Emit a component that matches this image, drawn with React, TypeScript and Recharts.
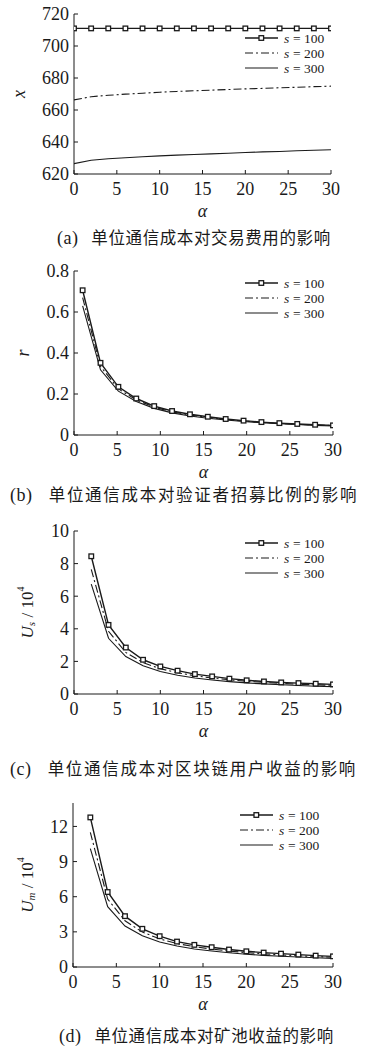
import React from 'react';
import { LineChart, Line, XAxis, YAxis, Legend } from 'recharts';

// α values
const ALPHA_A = [0, 2, 4, 6, 8, 10, 12, 14, 16, 18, 20, 22, 24, 26, 28, 30];
const ALPHA_B = [1, 3.07, 5.14, 7.21, 9.29, 11.36, 13.43, 15.5, 17.57, 19.64, 21.71, 23.79, 25.86, 27.93, 30];
const ALPHA_CD = [2, 4, 6, 8, 10, 12, 14, 16, 18, 20, 22, 24, 26, 28, 30];

// (a) x
const X_S100 = [711, 711, 711, 711, 711, 711, 711, 711, 711, 711, 711, 711, 711, 711, 711, 711];
const X_S200 = [666.3, 668.3, 669.2, 669.9, 670.5, 671.1, 671.6, 672.0, 672.4, 672.8, 673.2, 673.5, 673.9, 674.2, 674.6, 674.9];
const X_S300 = [626.5, 628.6, 629.5, 630.2, 630.8, 631.3, 631.8, 632.2, 632.6, 633.0, 633.4, 633.8, 634.1, 634.5, 634.8, 635.2];

// (b) r
const R_S100 = [0.706, 0.352, 0.235, 0.178, 0.141, 0.117, 0.101, 0.089, 0.078, 0.07, 0.063, 0.058, 0.054, 0.05, 0.047];
const R_S200 = [0.67, 0.335, 0.225, 0.171, 0.136, 0.113, 0.097, 0.086, 0.076, 0.068, 0.062, 0.056, 0.052, 0.049, 0.046];
const R_S300 = [0.63, 0.318, 0.214, 0.163, 0.13, 0.108, 0.093, 0.082, 0.073, 0.066, 0.06, 0.055, 0.051, 0.047, 0.044];

// (c) Us / 10^4
const US_S100 = [8.45, 4.24, 2.85, 2.1, 1.69, 1.43, 1.22, 1.08, 0.94, 0.84, 0.77, 0.71, 0.67, 0.63, 0.59];
const US_S200 = [7.64, 3.85, 2.55, 1.92, 1.55, 1.3, 1.12, 0.98, 0.87, 0.78, 0.71, 0.65, 0.6, 0.56, 0.53];
const US_S300 = [6.74, 3.42, 2.3, 1.73, 1.38, 1.15, 0.98, 0.86, 0.76, 0.68, 0.62, 0.57, 0.52, 0.48, 0.45];

// (d) Um / 10^4
const UM_S100 = [12.77, 6.4, 4.34, 3.26, 2.63, 2.17, 1.89, 1.69, 1.49, 1.34, 1.23, 1.14, 1.06, 0.97, 0.91];
const UM_S200 = [11.5, 5.8, 3.95, 2.98, 2.4, 2.0, 1.73, 1.53, 1.36, 1.23, 1.12, 1.03, 0.96, 0.89, 0.83];
const UM_S300 = [10.1, 5.15, 3.5, 2.66, 2.14, 1.79, 1.54, 1.36, 1.21, 1.09, 0.99, 0.92, 0.85, 0.79, 0.74];

const X_TICKS = [0, 5, 10, 15, 20, 25, 30];
const LEGEND_LABELS = ['100', '200', '300'];

const SERIF = '"Liberation Serif", "Times New Roman", serif';
const CJK = '"Noto Sans CJK SC", sans-serif';
const INK = '#1a1a1a';

const makeRows = (alpha: number[], a: number[], b: number[], c: number[]) =>
  alpha.map((x, i) => ({ a: x, s100: a[i], s200: b[i], s300: c[i] }));

const SquareDot = (props: any) => {
  const { cx, cy } = props;
  if (cx == null || cy == null) return null;
  return <rect x={cx - 2.3} y={cy - 2.3} width={4.6} height={4.6} fill="#fff" stroke={INK} strokeWidth={1.3} />;
};

// legend drawn by hand: sample line + "s = 100"
const LegendBox = () => (
  <svg width={95} height={48}>
    {LEGEND_LABELS.map((lab, i) => {
      const y = 7 + i * 15;
      return (
        <g key={lab}>
          <line
            x1={0}
            x2={33}
            y1={y}
            y2={y}
            stroke={INK}
            strokeWidth={i === 0 ? 1.4 : 1.1}
            strokeDasharray={i === 1 ? '8 3 2 3' : undefined}
          />
          {i === 0 && <rect x={14} y={y - 2.3} width={4.6} height={4.6} fill="#fff" stroke={INK} strokeWidth={1.3} />}
          <text x={39} y={y} dominantBaseline="central" fontFamily={SERIF} fontStyle="italic" fontSize={13.5} fill={INK}>
            s
          </text>
          <text x={48} y={y} dominantBaseline="central" fontFamily={SERIF} fontSize={13.5} fill={INK}>
            = {lab}
          </text>
        </g>
      );
    })}
  </svg>
);

type PanelProps = {
  top: number;
  plotH: number;
  left: number;
  right: number;
  rows: any[];
  yDomain: [number, number];
  yTicks: number[];
  yLabel: (cx: number, cy: number) => React.ReactNode;
  yLabelX: number;
  legendTop: number;
  legendLeft: number;
  caption: string;
  captionTop: number;
  captionLeft: number;
  captionSpacing: number;
};

const PAD_TOP = 12;

function Panel(p: PanelProps) {
  const height = PAD_TOP + p.plotH + 50;
  return (
    <>
      <div style={{ position: 'absolute', top: p.top - PAD_TOP, left: 0 }}>
        <LineChart
          width={365}
          height={height}
          data={p.rows}
          margin={{ top: PAD_TOP, right: 365 - p.right, left: 0, bottom: 0 }}
        >
          <XAxis
            dataKey="a"
            type="number"
            domain={[0, 30]}
            ticks={X_TICKS}
            allowDataOverflow
            height={50}
            axisLine={{ stroke: INK, strokeWidth: 1 }}
            tickLine={{ stroke: INK }}
            tickSize={-4}
            tickMargin={12}
            tick={{ fontFamily: SERIF, fontSize: 18, fill: INK }}
            label={(lp: any) => {
              const vb = lp.viewBox;
              return (
                <text
                  x={vb.x + vb.width / 2}
                  y={vb.y + 37}
                  textAnchor="middle"
                  dominantBaseline="central"
                  fontFamily={SERIF}
                  fontStyle="italic"
                  fontSize={18}
                  fill={INK}
                >
                  α
                </text>
              );
            }}
          />
          <XAxis xAxisId="top" orientation="top" type="number" domain={[0, 30]} tick={false} tickLine={false} height={0} axisLine={{ stroke: INK }} />
          <YAxis
            type="number"
            domain={p.yDomain}
            ticks={p.yTicks}
            allowDataOverflow
            width={p.left}
            axisLine={{ stroke: INK, strokeWidth: 1 }}
            tickLine={{ stroke: INK }}
            tickSize={-4}
            tickMargin={9}
            tick={{ fontFamily: SERIF, fontSize: 18, fill: INK }}
            label={(lp: any) => {
              const vb = lp.viewBox;
              return p.yLabel(p.yLabelX, vb.y + vb.height / 2);
            }}
          />
          <YAxis yAxisId="right" orientation="right" type="number" domain={p.yDomain} tick={false} tickLine={false} width={0} axisLine={{ stroke: INK }} />
          <Legend
            layout="vertical"
            align="center"
            verticalAlign="middle"
            content={() => <LegendBox />}
            wrapperStyle={{ top: p.legendTop - p.top + PAD_TOP, left: p.legendLeft, width: 95, height: 48 }}
          />
          <Line dataKey="s300" stroke={INK} strokeWidth={1.1} dot={false} isAnimationActive={false} />
          <Line dataKey="s200" stroke={INK} strokeWidth={1.1} strokeDasharray="8 3 2 3" dot={false} isAnimationActive={false} />
          <Line dataKey="s100" stroke={INK} strokeWidth={1.4} dot={<SquareDot />} isAnimationActive={false} />
        </LineChart>
      </div>
      <div
        style={{
          position: 'absolute',
          top: p.captionTop,
          left: p.captionLeft,
          whiteSpace: 'nowrap',
          fontSize: 16.5,
          lineHeight: '20px',
          color: INK,
          letterSpacing: p.captionSpacing,
        }}
      >
        <span style={{ fontFamily: SERIF, fontSize: 18, letterSpacing: 0.5 }}>{p.caption.slice(0, 3)}</span>
        <span style={{ fontFamily: CJK }}>{'\u00a0\u00a0' + p.caption.slice(3)}</span>
      </div>
    </>
  );
}

const plainLabel = (sym: string) => (cx: number, cy: number) => (
  <text
    x={cx}
    y={cy}
    transform={`rotate(-90, ${cx}, ${cy})`}
    textAnchor="middle"
    dominantBaseline="central"
    fontFamily={SERIF}
    fontStyle="italic"
    fontSize={18}
    fill={INK}
  >
    {sym}
  </text>
);

const uLabel = (sub: string) => (cx: number, cy: number) => (
  <text
    x={cx}
    y={cy}
    transform={`rotate(-90, ${cx}, ${cy})`}
    textAnchor="middle"
    dominantBaseline="central"
    fontFamily={SERIF}
    fontSize={17}
    fill={INK}
  >
    <tspan fontStyle="italic">U</tspan>
    <tspan fontStyle="italic" fontSize={11} dy={4}>
      {sub}
    </tspan>
    <tspan dy={-4}> / 10</tspan>
    <tspan fontSize={10} dy={-7}>
      4
    </tspan>
  </text>
);

export default function App() {
  return (
    <div style={{ position: 'absolute', top: 0, left: 0, width: 365, height: 1052, background: '#fff' }}>
      <Panel
        top={14}
        plotH={160}
        left={74}
        right={331}
        rows={makeRows(ALPHA_A, X_S100, X_S200, X_S300)}
        yDomain={[620, 720]}
        yTicks={[620, 640, 660, 680, 700, 720]}
        yLabel={plainLabel('x')}
        yLabelX={19}
        legendTop={31}
        legendLeft={245}
        caption="(a) 单位通信成本对交易费用的影响"
        captionTop={227}
        captionLeft={57}
        captionSpacing={0.6}
      />
      <Panel
        top={271}
        plotH={164}
        left={74}
        right={333}
        rows={makeRows(ALPHA_B, R_S100, R_S200, R_S300)}
        yDomain={[0, 0.8]}
        yTicks={[0, 0.2, 0.4, 0.6, 0.8]}
        yLabel={plainLabel('r')}
        yLabelX={23}
        legendTop={276}
        legendLeft={245}
        caption="(b) 单位通信成本对验证者招募比例的影响"
        captionTop={484}
        captionLeft={10}
        captionSpacing={1.7}
      />
      <Panel
        top={531}
        plotH={163}
        left={74}
        right={333}
        rows={makeRows(ALPHA_CD, US_S100, US_S200, US_S300)}
        yDomain={[0, 10]}
        yTicks={[0, 2, 4, 6, 8, 10]}
        yLabel={uLabel('s')}
        yLabelX={27}
        legendTop={536}
        legendLeft={245}
        caption="(c) 单位通信成本对区块链用户收益的影响"
        captionTop={758}
        captionLeft={10}
        captionSpacing={1.7}
      />
      <Panel
        top={803}
        plotH={164}
        left={73}
        right={333}
        rows={makeRows(ALPHA_CD, UM_S100, UM_S200, UM_S300)}
        yDomain={[0, 14]}
        yTicks={[0, 3, 6, 9, 12]}
        yLabel={uLabel('m')}
        yLabelX={27}
        legendTop={808}
        legendLeft={240}
        caption="(d) 单位通信成本对矿池收益的影响"
        captionTop={1025}
        captionLeft={59}
        captionSpacing={0.6}
      />
    </div>
  );
}
